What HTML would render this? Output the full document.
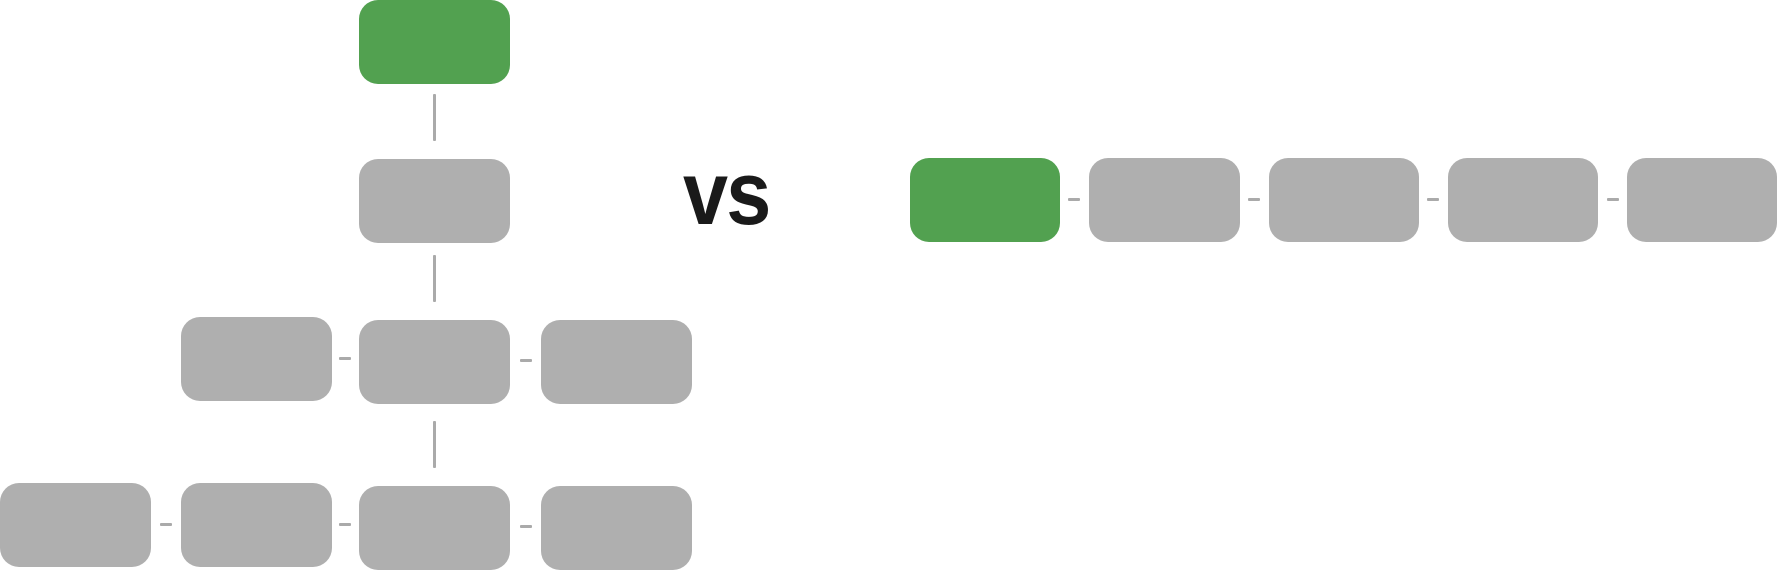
<!DOCTYPE html>
<html><head><meta charset="utf-8"><style>
body{margin:0;width:1777px;height:570px;background:#fff;position:relative;overflow:hidden;font-family:"Liberation Sans",sans-serif}
.b{position:absolute;width:151px;height:84px;border-radius:19px;background:#afafaf}
.g{background:#52a150}
.v{position:absolute;width:3px;background:#aaa;border-radius:1px}
.h{position:absolute;width:12px;height:3px;background:#aaa;border-radius:1px}
#vs{position:absolute;left:683px;top:144px;font-size:90px;font-weight:bold;color:#1a1a1a;line-height:100px;letter-spacing:-2px;transform:scaleX(0.9);transform-origin:left top}
</style></head><body>
<div class="b g" style="left:359px;top:0"></div>
<div class="v" style="left:433px;top:94px;height:47px"></div>
<div class="b" style="left:359px;top:159px"></div>
<div class="v" style="left:433px;top:255px;height:47px"></div>
<div class="b" style="left:181px;top:317px"></div>
<div class="h" style="left:339px;top:357px"></div>
<div class="b" style="left:359px;top:320px"></div>
<div class="h" style="left:520px;top:359px"></div>
<div class="b" style="left:541px;top:320px"></div>
<div class="v" style="left:433px;top:421px;height:47px"></div>
<div class="b" style="left:0;top:483px"></div>
<div class="h" style="left:160px;top:523px"></div>
<div class="b" style="left:181px;top:483px"></div>
<div class="h" style="left:339px;top:523px"></div>
<div class="b" style="left:359px;top:486px"></div>
<div class="h" style="left:520px;top:525px"></div>
<div class="b" style="left:541px;top:486px"></div>
<div id="vs">vs</div>
<div class="b g" style="left:910px;top:158px;width:150px"></div>
<div class="h" style="left:1068px;top:198px"></div>
<div class="b" style="left:1089px;top:158px;width:151px"></div>
<div class="h" style="left:1248px;top:198px"></div>
<div class="b" style="left:1269px;top:158px;width:150px"></div>
<div class="h" style="left:1427px;top:198px"></div>
<div class="b" style="left:1448px;top:158px;width:150px"></div>
<div class="h" style="left:1607px;top:198px"></div>
<div class="b" style="left:1627px;top:158px;width:150px"></div>
</body></html>
